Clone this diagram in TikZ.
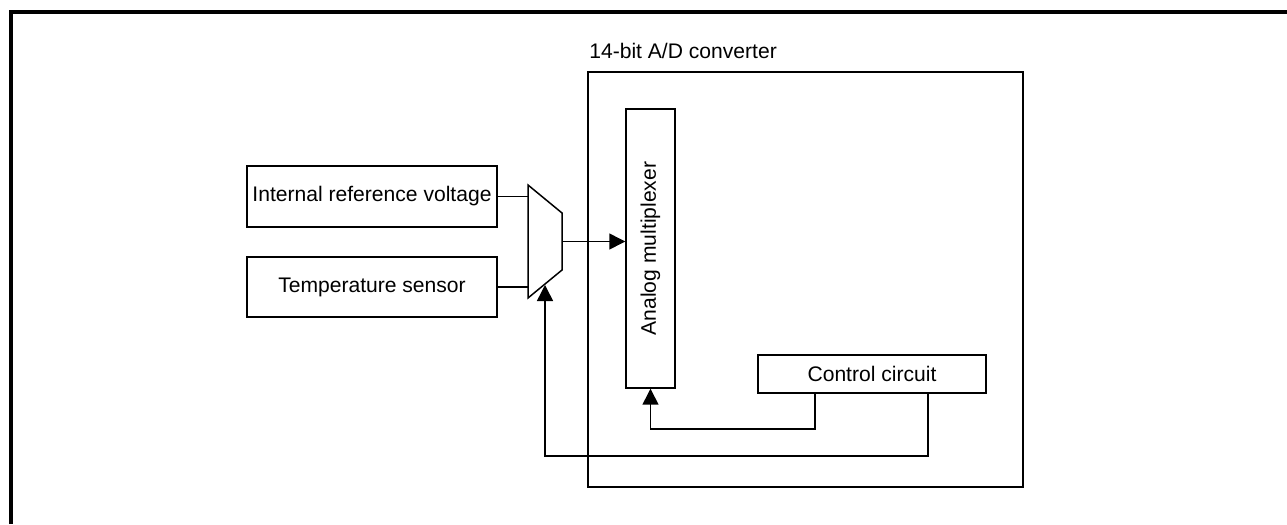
\documentclass[tikz,border=0pt]{standalone}
\usepackage{fontspec}
\setmainfont{Liberation Sans}
\usepackage{tikz}
\usetikzlibrary{arrows.meta}

\begin{document}
\begin{tikzpicture}[
						x=0.02cm, y=-0.02cm,
						box/.style={draw, line width=0.85pt, inner sep=0pt, font=\fontsize{12}{14}\selectfont},
						arrow/.style={-{Triangle[length=0.32cm, width=0.32cm]}, line width=0.85pt},
						wire/.style={line width=0.85pt},
						label/.style={font=\fontsize{12}{14}\selectfont, inner sep=0pt}
					]
					\useasboundingbox (0,0) rectangle (1287,524);
					\draw[line width=2pt] (11,524) -- (11,12) -- (1287,12);

					\node[box, minimum width=5cm, minimum height=1.22cm] (irv) at (372,196.5) {Internal reference voltage};
					\node[box, minimum width=5cm, minimum height=1.2cm] (temp) at (372,287) {Temperature sensor};

					\node[box, minimum width=8.7cm, minimum height=8.3cm] (adc) at (805.5,279.5) {};
					\node[label, anchor=base west] (adclabel) at (589,58) {14-bit A/D converter};

					\node[box, minimum width=0.98cm, minimum height=5.58cm] (amux) at (650.5,248.5) {};
					\node[label, rotate=90] (amuxlabel) at (amux.center) {Analog multiplexer};

					\node[box, minimum width=4.56cm, minimum height=0.76cm] (ctrl) at (872,374) {Control circuit};

					% selector
					\coordinate (muxa) at (528,185);
					\coordinate (muxb) at (562,213);
					\coordinate (muxc) at (562,270);
					\coordinate (muxd) at (528,298);
					\coordinate (muxout) at (562,241.5);
					\coordinate (muxsel) at (545,285);
					\draw[wire] (muxa) -- (muxb) -- (muxc) -- (muxd) -- cycle;

					\draw[wire] (irv.east) -- (irv.east -| muxa);
					\draw[wire] (temp.east) -- (temp.east -| muxa);
					\draw[arrow] (muxout) -- (muxout -| amux.west);

					\coordinate (tapa) at (815,429);
					\coordinate (tapb) at (928,456);
					\draw[arrow] (ctrl.south -| tapa) -- (tapa) -| (amux.south);
					\draw[arrow] (ctrl.south -| tapb) -- (tapb) -| (muxsel);
				\end{tikzpicture}
\end{document}
